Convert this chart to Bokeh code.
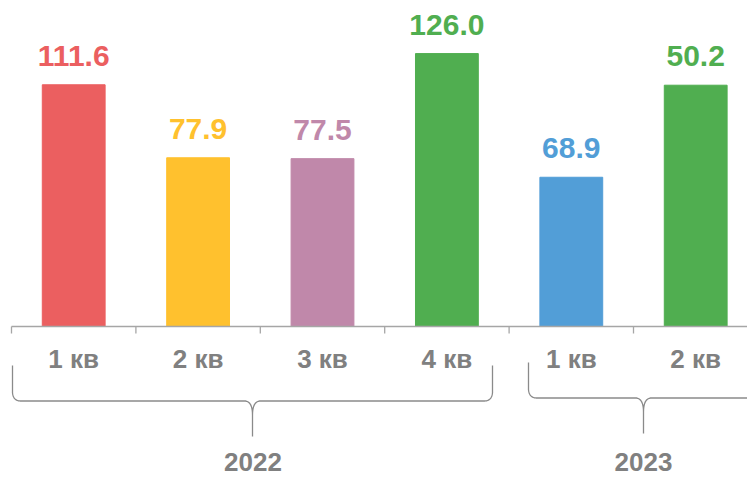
import numpy as np
from bokeh.plotting import figure
from bokeh.models import ColumnDataSource, Range1d
from bokeh.core.properties import value
from bokeh.embed import file_html
from bokeh.resources import INLINE

# ---- data ----
quarters = ["1 кв", "2 кв", "3 кв", "4 кв", "1 кв", "2 кв"]
years = ["2022", "2023"]
bar_heights = [111.6, 77.9, 77.5, 126.0, 68.9, 111.4]
value_labels = ["111.6", "77.9", "77.5", "126.0", "68.9", "50.2"]
bar_colors = ["#EB5F60", "#FFC12E", "#C088AA", "#50AE50", "#529ED7", "#50AE50"]

# ---- layout helpers (image pixel -> data units) ----
PX_X, X0 = 124.4, 11.0
PX_Y, Y0 = 2.166, 326.0
TXT_SHIFT = -11  # compensate baseline rendering


def dx(X):
    return (X - X0) / PX_X


def dy(Y):
    return (Y0 - Y) / PX_Y


FONT = value("Liberation Sans")
GRAY = "#808080"

p = figure(width=747, height=477, output_backend="svg", toolbar_location=None,
           x_range=Range1d(dx(0), dx(747)), y_range=Range1d(dy(477), dy(0)),
           x_axis_location=None, y_axis_location=None, min_border=0)
p.outline_line_color = None
p.xgrid.visible = False
p.ygrid.visible = False
p.background_fill_color = "white"
p.border_fill_color = "white"

xs = np.arange(len(bar_heights)) + 0.5
src = ColumnDataSource(dict(x=xs, top=bar_heights, label=value_labels, color=bar_colors, q=quarters))

p.vbar(x="x", top="top", bottom=0, width=0.505, color="color", source=src)

p.text(x="x", y="top", text="label", text_color="color", source=src,
       text_align="center", text_baseline="alphabetic", y_offset=-18 + TXT_SHIFT,
       text_font=FONT, text_font_style="bold", text_font_size="30px")

# axis line and boundary ticks
n = len(bar_heights)
p.segment(x0=[0], y0=[0], x1=[n], y1=[0], line_color="#a6a6a6", line_width=1.5)
p.segment(x0=list(range(n + 1)), y0=[0] * (n + 1), x1=list(range(n + 1)),
          y1=[dy(333)] * (n + 1), line_color="#a6a6a6", line_width=1.3)

# quarter labels
p.text(x="x", y=dy(369), text="q", source=src, text_color=GRAY,
       text_align="center", text_baseline="alphabetic", y_offset=TXT_SHIFT,
       text_font=FONT, text_font_style="bold", text_font_size="26px")


# braces
def quad(p0, c, p1, k=12):
    t = np.linspace(0, 1, k)
    x = (1 - t) ** 2 * p0[0] + 2 * (1 - t) * t * c[0] + t ** 2 * p1[0]
    y = (1 - t) ** 2 * p0[1] + 2 * (1 - t) * t * c[1] + t ** 2 * p1[1]
    return list(x), list(y)


def brace(xl, xr, xc, ytop, yh, ytip, r=8):
    X, Y = [xl], [ytop]
    a, b = quad((xl, yh - r), (xl + 1, yh), (xl + r, yh)); X += a; Y += b
    a, b = quad((xc - 7, yh), (xc, yh + 1), (xc, yh + 14)); X += a; Y += b
    X += [xc, xc]; Y += [ytip, yh + 14]
    a, b = quad((xc, yh + 14), (xc, yh + 1), (xc + 7, yh)); X += a; Y += b
    a, b = quad((xr - r, yh), (xr - 1, yh), (xr, yh - r)); X += a; Y += b
    X += [xr]; Y += [ytop]
    return [dx(v) for v in X], [dy(v) for v in Y]


for args in [(12, 492, 252, 365, 400.5, 436), (528, 758, 643, 362, 397.5, 433)]:
    bx, by = brace(*args)
    p.line(bx, by, line_color="#8a8a8a", line_width=1.3)

# year labels
p.text(x=[dx(252.5), dx(643)], y=[dy(472)] * 2, text=years, text_color=GRAY,
       text_align="center", text_baseline="alphabetic", y_offset=TXT_SHIFT,
       text_font=FONT, text_font_style="bold", text_font_size="26px")

open("out.html", "w").write(file_html(p, INLINE))
